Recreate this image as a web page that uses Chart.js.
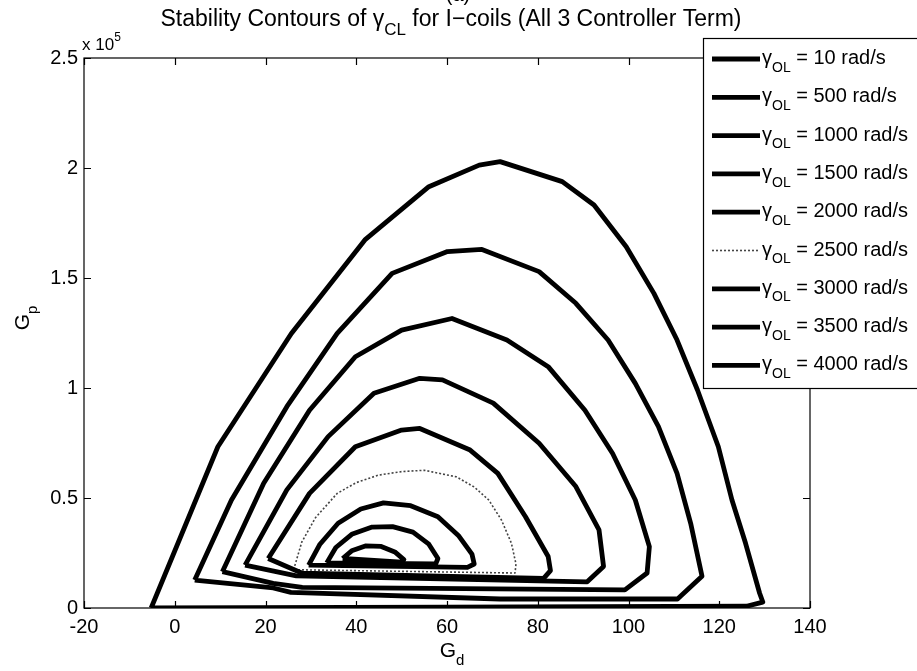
<!DOCTYPE html>
<html>
<head>
<meta charset="utf-8">
<script src="https://cdn.jsdelivr.net/npm/chart.js@4.4.1/dist/chart.umd.min.js"></script>
<style>
  html, body { margin: 0; padding: 0; background: #fff; }
  #wrap { width: 917px; height: 671px; }
</style>
</head>
<body>
<div id="wrap"><canvas id="chart-contornos" width="917" height="671"></canvas></div>
<script>
// gamma_OL values (rad/s), one contour each
const rates = [10, 500, 1000, 1500, 2000, 2500, 3000, 3500, 4000]

// contours: Gd (x) and Gp (y)
const gd10 = [-5.2, 9.5, 25.7, 41.9, 56.0, 67.1, 71.7, 85.4, 92.4, 99.5, 105.6, 110.7, 115.2, 119.8, 122.8, 125.8, 128.9, 129.6, 126.0, 60, -5.2]
const gp10 = [0, 73300, 124800, 167300, 191500, 201300, 202900, 193800, 183200, 164200, 143000, 121800, 99100, 73300, 49100, 29400, 6700, 2700, 800, 400, 0]

const gd500 = [4.4, 12.5, 24.7, 35.8, 47.9, 60.1, 67.7, 80.3, 88.4, 95.5, 101.5, 106.6, 110.7, 113.7, 116.2, 110.8, 71.7, 25.6, 21.7, 4.4]
const gp500 = [12700, 49100, 91500, 124800, 152100, 162000, 163000, 152900, 138500, 121800, 102100, 82400, 61200, 38500, 14400, 4100, 4100, 7100, 9100, 12700]

const gd1000 = [10.5, 19.6, 29.7, 39.8, 50, 61.1, 73.2, 82.3, 90.4, 96.5, 101.5, 104.6, 104.1, 99.2, 28.1, 21.7, 10.5]
const gp1000 = [16500, 56700, 89900, 114200, 126300, 131600, 121800, 109700, 89900, 70200, 49100, 27900, 15900, 8200, 9400, 11200, 16500]

const gd1500 = [15.5, 24.7, 33.8, 43.9, 54, 59, 70.2, 80.3, 88.4, 93.5, 94.5, 90.9, 26.8, 15.5]
const gp1500 = [19500, 53700, 77900, 97600, 104400, 103700, 93100, 74900, 55200, 35500, 18900, 11900, 14600, 19500]

const gd2000 = [20.6, 29.7, 39.8, 50, 54, 65.1, 71.2, 77.3, 82.3, 82.8, 81.3, 28.1, 20.6]
const gp2000 = [22500, 52100, 73300, 80900, 81600, 71800, 61200, 41500, 23400, 17000, 13500, 15800, 22500]

const gd2500 = [26.2, 28, 31, 35.8, 40, 44.9, 50, 55, 62.1, 66, 69.2, 72, 74.2, 75.2, 75, 26.2]
const gp2500 = [17400, 30000, 41000, 52100, 57000, 60400, 62000, 62600, 59600, 55000, 49100, 40000, 29400, 20000, 15900, 17400]

const gd3000 = [29.5, 32, 36, 41, 46, 52, 58, 62.5, 65.5, 66, 64.5, 29.5]
const gp3000 = [19500, 29000, 38500, 45000, 47800, 46500, 41500, 33000, 24500, 20000, 18500, 19500]

const gd3500 = [33.5, 35.5, 39, 43.5, 48, 52.5, 56, 58, 57.5, 33.5]
const gp3500 = [20500, 27500, 33500, 36800, 37000, 34500, 29000, 22500, 20000, 20500]

const gd4000 = [37, 39, 42, 45.5, 48.5, 50.5, 50, 37]
const gp4000 = [22500, 26000, 28200, 28000, 25500, 22000, 20800, 22500]

// ticks
const xTicks = [-20, 0, 20, 40, 60, 80, 100, 120, 140]
const yTicks = [0, 50000, 100000, 150000, 200000, 250000]

const contornos = [
  [gd10, gp10], [gd500, gp500], [gd1000, gp1000], [gd1500, gp1500], [gd2000, gp2000],
  [gd2500, gp2500], [gd3000, gp3000], [gd3500, gp3500], [gd4000, gp4000]
]

const FAM = "'Liberation Sans', Arial, Helvetica, sans-serif"

// draws text pieces with optional subscript / superscript
function richText(ctx, parts, x, y, size, align) {
  const subSize = Math.round(size * 0.72)
  let total = 0
  parts.forEach(p => {
    ctx.font = (p.sub || p.sup ? subSize : size) + 'px ' + FAM
    p.w = ctx.measureText(p.t).width
    total += p.w
  })
  let cx = align === 'center' ? x - total / 2 : x
  ctx.textAlign = 'left'
  ctx.textBaseline = 'alphabetic'
  parts.forEach(p => {
    ctx.font = (p.sub || p.sup ? subSize : size) + 'px ' + FAM
    let dy = p.sub ? size * 0.38 : (p.sup ? -size * 0.55 : 0)
    ctx.fillText(p.t, cx, y + dy)
    cx += p.w
  })
}

const decor = {
  id: 'decor',
  afterDraw(chart) {
    const ctx = chart.ctx
    const a = chart.chartArea
    const sx = chart.scales.x, sy = chart.scales.y
    ctx.save()
    ctx.fillStyle = '#000'
    ctx.strokeStyle = '#000'

    // frame + inward ticks (matlab style)
    ctx.lineWidth = 1.2
    ctx.strokeRect(a.left, a.top, a.right - a.left, a.bottom - a.top)
    ctx.beginPath()
    xTicks.forEach(v => {
      const px = Math.round(sx.getPixelForValue(v)) + 0.5
      ctx.moveTo(px, a.bottom); ctx.lineTo(px, a.bottom - 7)
      ctx.moveTo(px, a.top); ctx.lineTo(px, a.top + 7)
    })
    yTicks.forEach(v => {
      const py = Math.round(sy.getPixelForValue(v)) + 0.5
      ctx.moveTo(a.left, py); ctx.lineTo(a.left + 7, py)
      ctx.moveTo(a.right, py); ctx.lineTo(a.right - 7, py)
    })
    ctx.stroke()

    // title, exponent, axis titles
    richText(ctx, [{t: '(a)'}], 458, 1, 20, 'center')
    richText(ctx, [{t: 'Stability Contours of γ'}, {t: 'CL', sub: true}, {t: ' for I\u2212coils (All 3 Controller Term)'}], 451, 26, 23, 'center')
    richText(ctx, [{t: 'x 10'}, {t: '5', sup: true}], 82, 50, 17, 'left')
    richText(ctx, [{t: 'G'}, {t: 'd', sub: true}], 452, 657, 21, 'center')
    ctx.save()
    ctx.translate(29, 318)
    ctx.rotate(-Math.PI / 2)
    richText(ctx, [{t: 'G'}, {t: 'p', sub: true}], 0, 0, 21, 'center')
    ctx.restore()

    // legend box
    const lx = 703, ly = 38, lw = 230, lh = 350
    ctx.fillStyle = '#fff'
    ctx.fillRect(lx, ly, lw, lh)
    ctx.lineWidth = 1.2
    ctx.strokeRect(lx + 0.5, ly + 0.5, lw, lh)
    chart.data.datasets.forEach((ds, i) => {
      const cy = 59 + i * 38.3
      ctx.save()
      ctx.strokeStyle = ds.borderColor
      ctx.lineWidth = ds.borderWidth
      ctx.setLineDash(ds.borderDash || [])
      ctx.beginPath()
      ctx.moveTo(712, cy); ctx.lineTo(760, cy)
      ctx.stroke()
      ctx.restore()
      ctx.fillStyle = '#000'
      richText(ctx, [{t: 'γ'}, {t: 'OL', sub: true}, {t: ' = ' + rates[i] + ' rad/s'}], 762, cy + 5, 20, 'left')
    })
    ctx.restore()
  }
}

window.addEventListener('load', () => {
  const datasets = contornos.map((c, i) => {
    const dotted = rates[i] === 2500
    return {
      label: 'γOL = ' + rates[i] + ' rad/s',
      data: c[0].map((x, k) => ({x: x, y: c[1][k]})),
      showLine: true,
      pointRadius: 0,
      tension: 0,
      borderColor: dotted ? '#444' : '#000',
      backgroundColor: '#000',
      borderWidth: dotted ? 1.6 : 4.8,
      borderDash: dotted ? [2, 2] : undefined,
      borderJoinStyle: 'round'
    }
  })

  new Chart(document.getElementById('chart-contornos'), {
    type: 'scatter',
    data: { datasets: datasets },
    options: {
      responsive: false,
      animation: false,
      devicePixelRatio: 1,
      layout: { padding: { top: 58, right: 107, left: 0, bottom: 0 } },
      plugins: {
        legend: { display: false },
        title: { display: false },
        tooltip: { enabled: false }
      },
      scales: {
        x: {
          type: 'linear',
          min: -20,
          max: 140,
          afterBuildTicks: s => { s.ticks = xTicks.map(v => ({value: v})) },
          afterFit: s => { s.height = 63 },
          grid: { display: false, drawTicks: false },
          border: { display: false },
          ticks: { color: '#000', padding: 7, maxRotation: 0, font: { size: 20, family: FAM } }
        },
        y: {
          type: 'linear',
          min: 0,
          max: 250000,
          afterBuildTicks: s => { s.ticks = yTicks.map(v => ({value: v})) },
          afterFit: s => { s.width = 84 },
          grid: { display: false, drawTicks: false },
          border: { display: false },
          ticks: {
            color: '#000',
            padding: 6,
            font: { size: 20, family: FAM },
            callback: function (value) {
              return String(value / 1e5)
            }
          }
        }
      }
    },
    plugins: [decor]
  })
})
</script>
</body>
</html>
